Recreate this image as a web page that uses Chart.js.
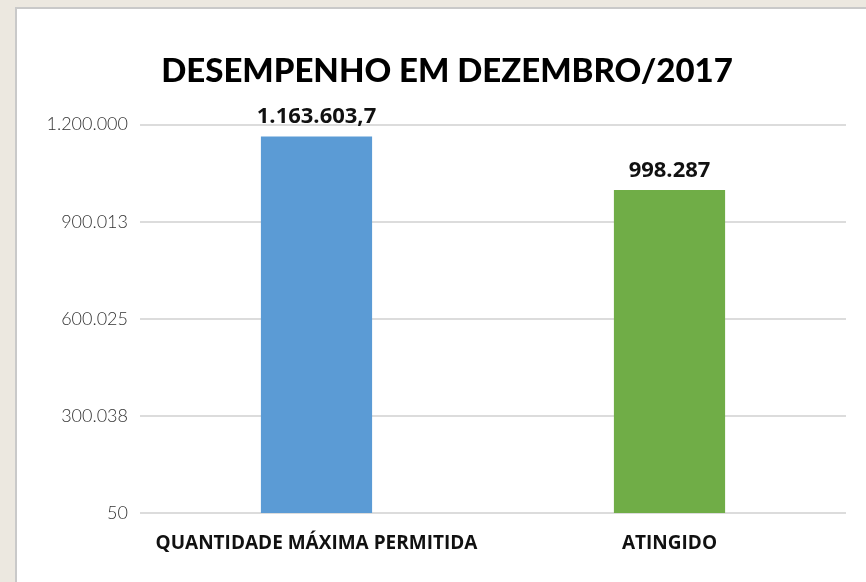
<!DOCTYPE html>
<html>
<head>
<meta charset="utf-8">
<script src="https://cdn.jsdelivr.net/npm/chart.js@4.4.1/dist/chart.umd.min.js"></script>
<style>
  html, body { margin: 0; padding: 0; width: 866px; height: 582px; overflow: hidden; background: #ece8e0; }
  #panel { position: absolute; left: 15px; top: 7px; width: 870px; height: 600px; background: #fff; border-left: 2px solid #c9c9c9; border-top: 2px solid #c9c9c9; }
  #chart { position: absolute; left: 0; top: 0; }
</style>
</head>
<body>
<div id="panel"><canvas id="chart" width="860" height="573"></canvas></div>
<script>
// dados do gráfico
const categorias = ['QUANTIDADE MÁXIMA PERMITIDA', 'ATINGIDO'];
const valores = [1163603.7, 998287];
const rotulosValores = ['1.163.603,7', '998.287'];
const coresBarras = ['#5b9bd5', '#70ad47'];
const yTickValues = [50, 300037.5, 600025, 900012.5, 1200000];
const yTickLabels = ['50', '300.038', '600.025', '900.013', '1.200.000'];
const titulo = 'DESEMPENHO EM DEZEMBRO/2017';

// rótulos em cima das barras (sem plugin externo)
const rotulosPlugin = {
    id: 'rotulos',
    afterDatasetsDraw(chart) {
        const ctx = chart.ctx;
        const meta = chart.getDatasetMeta(0);
        ctx.save();
        ctx.font = 'bold 22px "Open Sans", sans-serif';
        ctx.fillStyle = '#111';
        ctx.textAlign = 'center';
        ctx.textBaseline = 'alphabetic';
        meta.data.forEach((bar, i) => {
            ctx.fillText(rotulosValores[i], bar.x, bar.y - 13);
        });
        ctx.restore();
    }
};

const ctx = document.getElementById('chart').getContext('2d');
new Chart(ctx, {
    type: 'bar',
    data: {
        labels: categorias,
        datasets: [{
            data: valores,
            backgroundColor: coresBarras,
            barPercentage: 0.315,
            categoryPercentage: 1
        }]
    },
    options: {
        responsive: false, animation: false,
        layout: { padding: { left: 31, right: 31, top: 0, bottom: 0 } },
        plugins: {
            legend: { display: false },
            tooltip: { enabled: false },
            title: {
                display: true, text: titulo, color: '#000',
                font: { family: 'Lato', size: 33, weight: '900' },
                padding: { top: 43, bottom: 33 }
            }
        },
        scales: {
            x: {
                grid: { display: false },
                border: { display: false },
                ticks: { color: '#111', padding: 11, font: { family: '"Open Sans"', size: 19, weight: 'bold' } },
                afterFit: (s) => { s.height = 69; }
            },
            y: {
                min: 50, max: 1200000,
                afterBuildTicks: (s) => { s.ticks = yTickValues.map(v => ({ value: v })); },
                afterFit: (s) => { s.width = 92; },
                grid: { color: '#dcdcdc', lineWidth: 2, drawTicks: false },
                border: { display: false },
                ticks: {
                    color: '#333', padding: 12,
                    font: { family: 'Lato', size: 18, weight: '300' },
                    callback: (v, i) => yTickLabels[i]
                }
            }
        }
    },
    plugins: [rotulosPlugin]
});
</script>
</body>
</html>
